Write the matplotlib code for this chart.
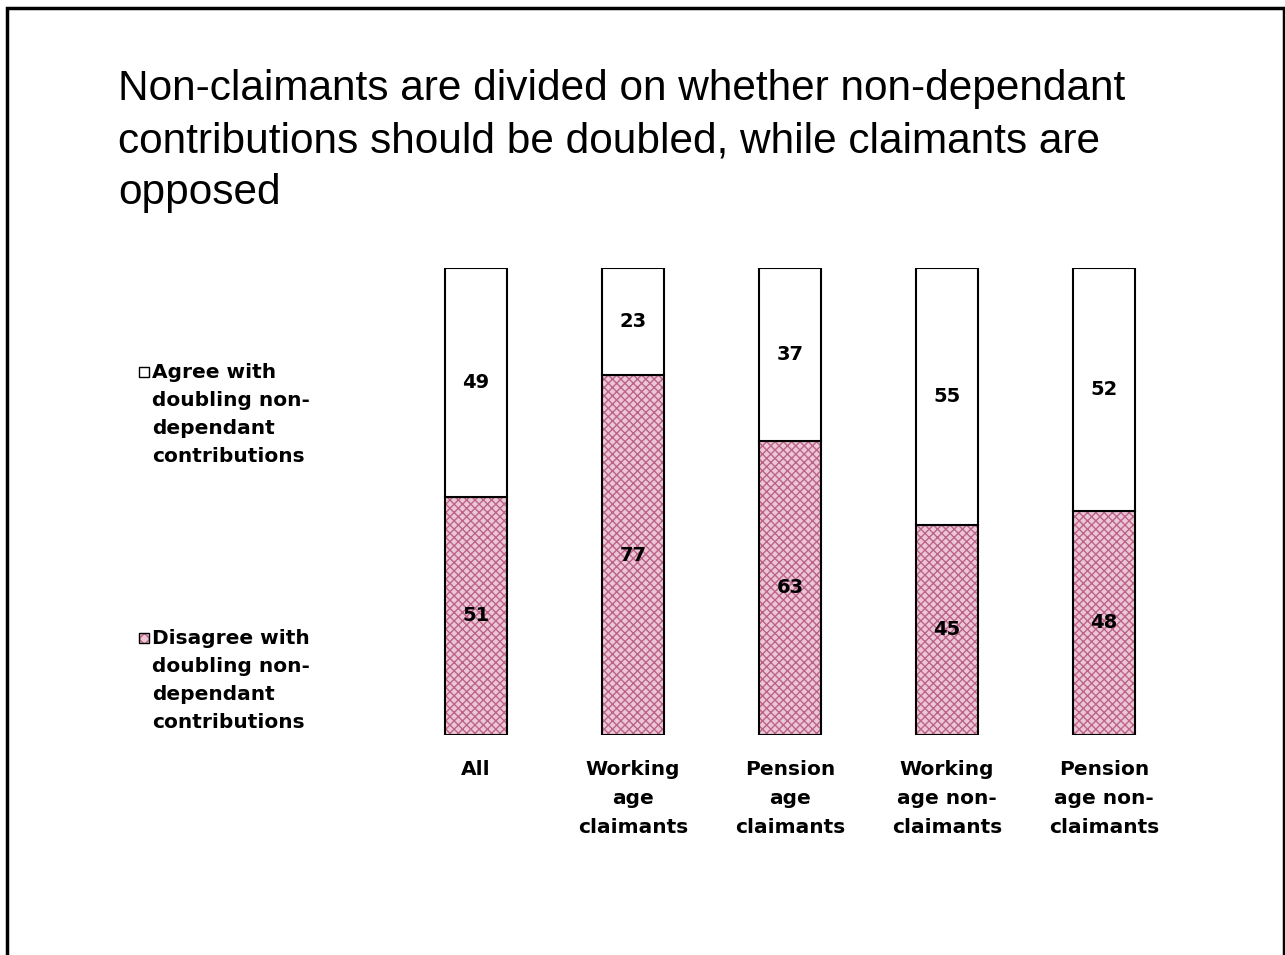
import matplotlib.pyplot as plt
from matplotlib.patches import Rectangle

plt.rcParams['font.family'] = ['Liberation Sans', 'DejaVu Sans']

# data
categories = ['All', 'Working\nage\nclaimants', 'Pension\nage\nclaimants',
              'Working\nage non-\nclaimants', 'Pension\nage non-\nclaimants']
disagree = [51, 77, 63, 45, 48]
agree = [49, 23, 37, 55, 52]
legend_labels = ['Agree with\ndoubling non-\ndependant\ncontributions',
                 'Disagree with\ndoubling non-\ndependant\ncontributions']

W, H = 1285, 955
bold_font = ['DejaVu Sans']
fig = plt.figure(figsize=(W / 100, H / 100), dpi=100)

# outer frame
fig.patches.append(Rectangle((7 / W, -0.01), (1284 - 7) / W, 1 - 8 / H + 0.01,
                             transform=fig.transFigure, fill=False,
                             edgecolor='black', linewidth=2.5))

fig.text(118 / W, 1 - 69 / H,
         'Non-claimants are divided on whether non-dependant\n'
         'contributions should be doubled, while claimants are\n'
         'opposed', fontsize=30.5, va='top', ha='left', linespacing=1.39)

ax = fig.add_axes([397.5 / W, 1 - 735 / H, 785 / W, 467 / H])
x = range(len(categories))
bw = 0.40
pink_face = '#ecc6d6'
pink_hatch = '#bb6488'

# hatched bottom segment, then black outlines on top
ax.bar(x, disagree, bw, color=pink_face, edgecolor=pink_hatch, hatch='xxxx', linewidth=0)
ax.bar(x, disagree, bw, fill=False, edgecolor='black', linewidth=1.5)
ax.bar(x, agree, bw, bottom=disagree, color='white', edgecolor='black', linewidth=1.5)

for i in x:
    ax.text(i, disagree[i] / 2, str(disagree[i]), ha='center', va='center',
            fontsize=14, fontweight='bold', family=bold_font)
    ax.text(i, disagree[i] + agree[i] / 2, str(agree[i]), ha='center', va='center',
            fontsize=14, fontweight='bold', family=bold_font)

ax.set_xlim(-0.5, 4.5)
ax.set_ylim(0, 100)
ax.set_xticks(list(x))
ax.set_xticklabels(categories, fontsize=14.5, fontweight='bold', linespacing=1.68,
                   family=bold_font)
ax.tick_params(axis='x', length=0, pad=18)
ax.set_yticks([])
for s in ax.spines.values():
    s.set_visible(False)

# legend on the left
for k, (lbl, y0) in enumerate(zip(legend_labels, [372, 638])):
    sq = (139 / W, 1 - (y0 + 5) / H)
    if k == 0:
        fig.patches.append(Rectangle(sq, 10 / W, 10 / H, transform=fig.transFigure,
                                     facecolor='white', edgecolor='black', linewidth=1))
    else:
        fig.patches.append(Rectangle(sq, 10 / W, 10 / H, transform=fig.transFigure,
                                     facecolor=pink_face, edgecolor=pink_hatch,
                                     hatch='xxx', linewidth=0))
        fig.patches.append(Rectangle(sq, 10 / W, 10 / H, transform=fig.transFigure,
                                     fill=False, edgecolor='black', linewidth=1))
    fig.text(152 / W, 1 - (y0 - 9) / H, lbl, fontsize=14.5, fontweight='bold',
             va='top', ha='left', linespacing=1.6, family=bold_font)

fig.savefig('out.png', dpi=100)
